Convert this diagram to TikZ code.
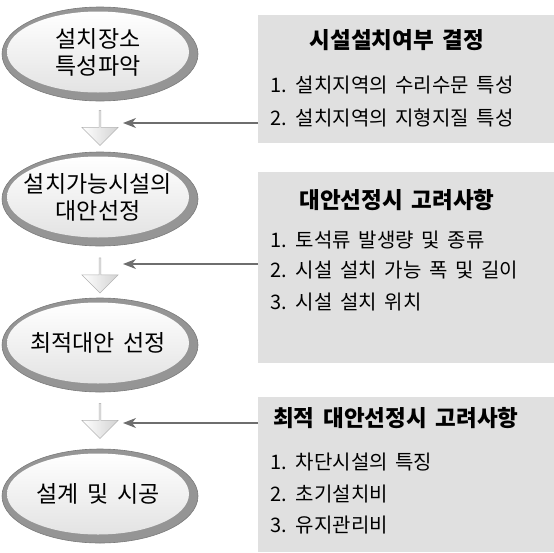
\documentclass[tikz,border=0pt]{standalone}
\usepackage{fontspec}
\setmainfont[WordSpace=1.7]{Noto Sans CJK KR}
\usetikzlibrary{shapes.geometric,shapes.arrows,arrows.meta}
\definecolor{rim}{HTML}{959595}
\definecolor{rimdark}{HTML}{7A7A7A}
\definecolor{boxfill}{HTML}{E0E0E0}
\definecolor{linegray}{HTML}{6E6E6E}
\tikzset{
 rimell/.style={ellipse, minimum width=196pt, minimum height=94pt, fill=rim, draw=rimdark, line width=0.6pt, inner sep=0},
 innerell/.style={ellipse, minimum width=182pt, minimum height=81pt, top color=white, bottom color=gray!22, inner sep=-30pt, font=\fontsize{23}{27}\selectfont, align=center},
 infobox/.style={fill=boxfill, inner sep=0, minimum width=296pt, anchor=north west},
 blockarrow/.style={single arrow, rotate=-90, minimum width=36pt, single arrow head extend=6pt, minimum height=35pt, inner sep=0, left color=white, right color=gray!35, draw=gray!60, line width=0.6pt},
 ptr/.style={draw=linegray, line width=1.3pt, -{Stealth[length=13pt, width=10pt, inset=4pt]}},
 boxtitle/.style={font=\fontsize{22.5}{22.5}\selectfont\bfseries},
 boxitem/.style={font=\fontsize{20}{20}\selectfont, anchor=west, inner sep=0},
}
\begin{document}
\begin{tikzpicture}[x=1pt, y=-1pt]
\useasboundingbox (0,0) rectangle (554,552);
% info boxes
\node[infobox, minimum height=128pt] (b1) at (258,15) {};
\node[infobox, minimum height=191pt] (b2) at (258,172) {};
\node[infobox, minimum height=155pt] (b3) at (258,397) {};
% ellipses
\node[rimell] (e1r) at (100,54) {};
\node[innerell] (e1) at (98,52) {설치장소\\특성파악};
\node[rimell] (e2r) at (100,199) {};
\node[innerell] (e2) at (98,197) {설치가능시설의\\대안선정};
\node[rimell] (e3r) at (100,345) {};
\node[innerell] (e3) at (98,343) {최적대안 선정};
\node[rimell] (e4r) at (100,496) {};
\node[innerell] (e4) at (98,494) {설계 및 시공};
% block arrows
\node[blockarrow] (a1) at (100,127.5) {};
\node[blockarrow] (a2) at (100,275) {};
\node[blockarrow] (a3) at (100,420.5) {};
% box texts
\node[boxtitle] (t1) at (397,40) {시설설치여부 결정};
\node[boxitem] (i11) at (270,85) {1. 설치지역의 수리수문 특성};
\node[boxitem] (i12) at (270,118) {2. 설치지역의 지형지질 특성};
\node[boxtitle] (t2) at (397,200) {대안선정시 고려사항};
\node[boxitem] (i21) at (270,240) {1. 토석류 발생량 및 종류};
\node[boxitem] (i22) at (270,270) {2. 시설 설치 가능 폭 및 길이};
\node[boxitem] (i23) at (270,302) {3. 시설 설치 위치};
\node[boxtitle, anchor=west, inner sep=0] (t3) at (273,418) {최적 대안선정시 고려사항};
\node[boxitem] (i31) at (270,462) {1. 차단시설의 특징};
\node[boxitem] (i32) at (270,494) {2. 초기설치비};
\node[boxitem] (i33) at (270,525) {3. 유지관리비};
% pointer arrows
\coordinate (p1) at (123,123);
\coordinate (p2) at (123,264);
\coordinate (p3) at (123,423);
\draw[ptr] (b1.west |- p1) -- (p1);
\draw[ptr] (b2.west |- p2) -- (p2);
\draw[ptr] (b3.west |- p3) -- (p3);
\end{tikzpicture}
\end{document}
